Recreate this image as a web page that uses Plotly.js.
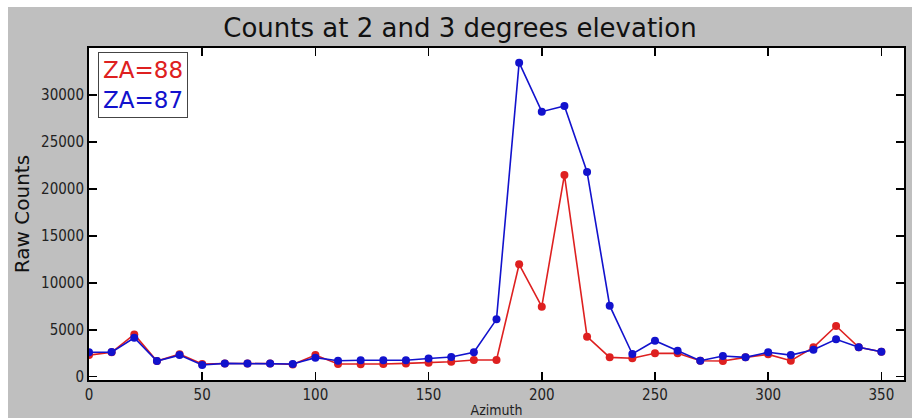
<!DOCTYPE html>
<html>
<head>
<meta charset="utf-8">
<script src="https://cdn.plot.ly/plotly-3.0.1.min.js"></script>
<style>
html,body{margin:0;padding:0;background:#ffffff;}
#chart{position:absolute;left:8px;top:7px;width:904px;height:411px;}
</style>
</head>
<body>
<div id="chart"></div>
<script>
const azimuth = [0,10,20,30,40,50,60,70,80,90,100,110,120,130,140,150,160,170,180,190,200,210,220,230,240,250,260,270,280,290,300,310,320,330,340,350];
const za88 = [2300,2600,4500,1670,2400,1350,1400,1400,1400,1300,2300,1350,1320,1350,1420,1490,1600,1780,1780,11970,7460,21480,4260,2060,1960,2490,2490,1700,1670,2060,2380,1700,3130,5400,3130,2660];
const za87 = [2600,2620,4150,1670,2300,1250,1420,1420,1400,1350,2030,1700,1760,1760,1760,1940,2100,2600,6110,33440,28220,28830,21800,7560,2420,3830,2770,1700,2200,2060,2600,2300,2880,3980,3130,2660];
const legendLabels = ["ZA=88","ZA=87"];
const colRed = "rgb(222,32,32)";
const colBlue = "rgb(18,18,205)";

const traces = [
  {x: azimuth, y: za88, name: legendLabels[0], mode: "lines+markers",
   line: {color: colRed, width: 1.6}, marker: {color: colRed, size: 8}},
  {x: azimuth, y: za87, name: legendLabels[1], mode: "lines+markers",
   line: {color: colBlue, width: 1.6}, marker: {color: colBlue, size: 8}}
];

const tickFont = {family: "DejaVu Sans Condensed, Liberation Sans Narrow, sans-serif", size: 15, color: "#222"};

const layout = {
  width: 904, height: 411,
  margin: {l: 81, r: 8, t: 41, b: 38},
  paper_bgcolor: "#bfbfbf",
  plot_bgcolor: "#ffffff",
  showlegend: false,
  title: {text: "Counts at 2 and 3 degrees elevation",
          font: {family: "DejaVu Sans, Verdana, sans-serif", size: 26, color: "#111"},
          x: 0.5, xanchor: "center", y: 0.95, yanchor: "middle"},
  xaxis: {range: [0, 360], tickvals: [0,50,100,150,200,250,300,350],
          ticks: "inside", ticklen: 8, tickwidth: 1.5, tickcolor: "#000",
          showline: true, linecolor: "#000", linewidth: 2, mirror: "ticks",
          showgrid: false, zeroline: false, tickfont: tickFont,
          title: {text: "Azimuth", font: {family: tickFont.family, size: 14, color: "#222"}, standoff: 2}},
  yaxis: {range: [-350, 35000], tickvals: [0,5000,10000,15000,20000,25000,30000],
          tickformat: "d",
          ticks: "inside", ticklen: 8, tickwidth: 1.5, tickcolor: "#000",
          showline: true, linecolor: "#000", linewidth: 2, mirror: "ticks",
          showgrid: false, zeroline: false, tickfont: tickFont,
          title: {text: "Raw Counts", font: {family: "DejaVu Sans, Verdana, sans-serif", size: 20, color: "#111"}, standoff: 6}},
  annotations: [{
    xref: "paper", yref: "paper", x: 0.011, y: 0.988, xanchor: "left", yanchor: "top",
    align: "left", showarrow: false,
    text: '<span style="color:' + colRed + '">' + legendLabels[0] + '</span><br><span style="color:' + colBlue + '">' + legendLabels[1] + '</span>',
    font: {family: "DejaVu Sans, Verdana, sans-serif", size: 23},
    bordercolor: "#444", borderwidth: 1, borderpad: 4, bgcolor: "#ffffff"
  }]
};

Plotly.newPlot("chart", traces, layout, {displayModeBar: false, staticPlot: true});
</script>
</body>
</html>
